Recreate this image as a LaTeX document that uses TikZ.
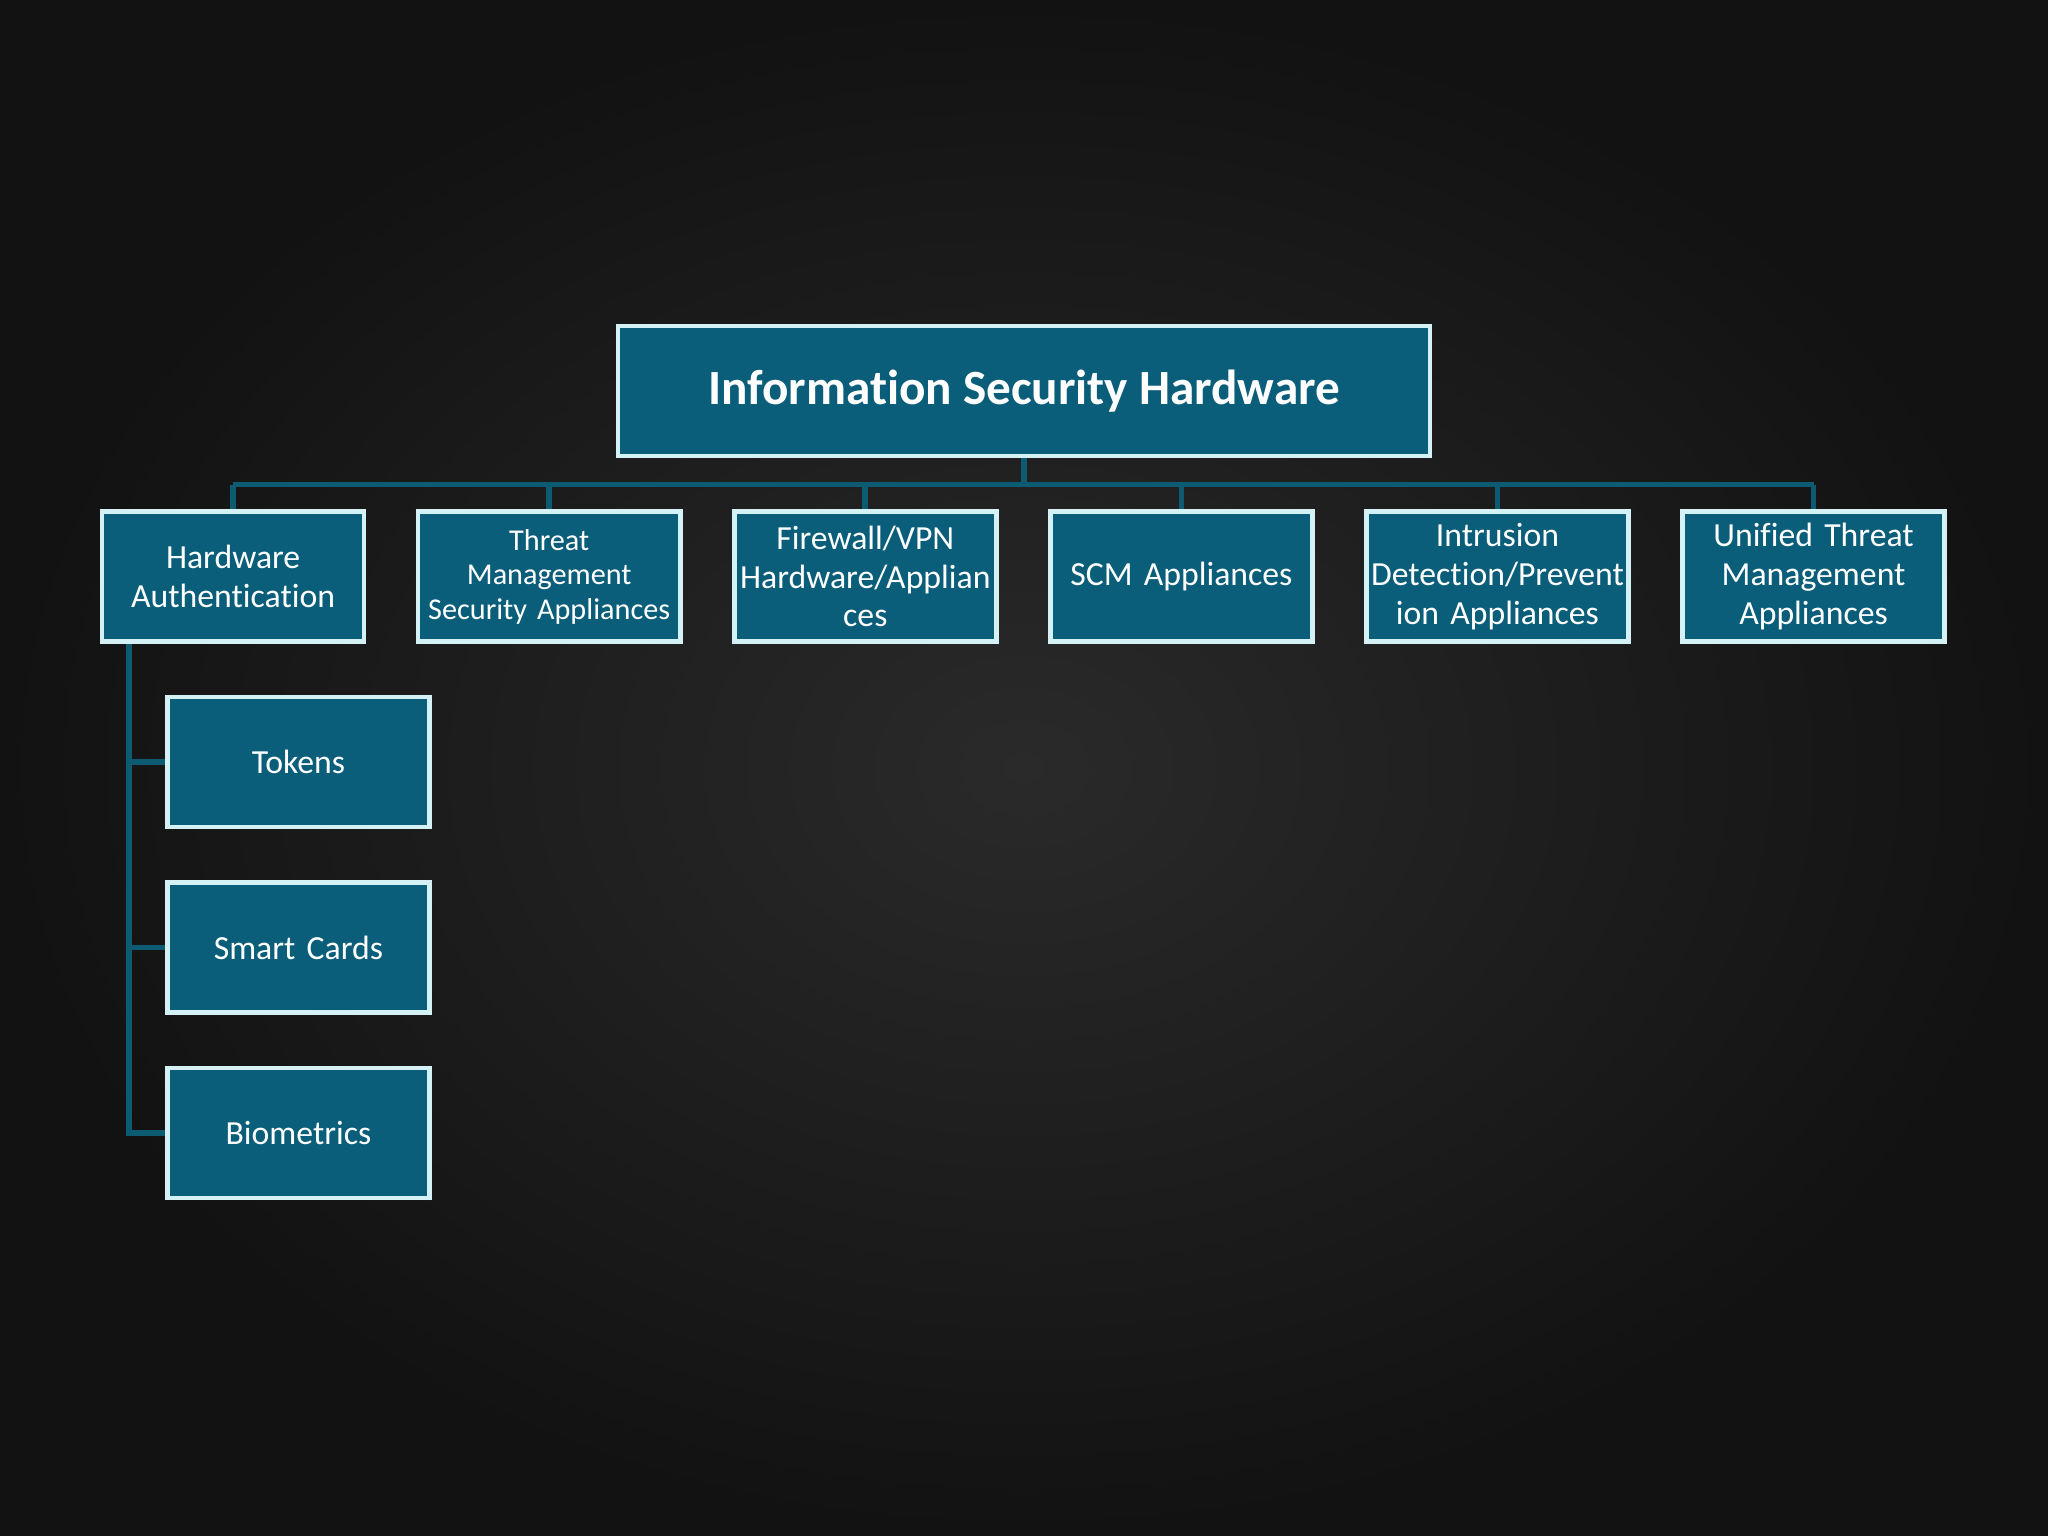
\documentclass[tikz,border=0pt]{standalone}
\usepackage{fontspec}
\setmainfont{Carlito}[Ligatures={NoCommon}]
\definecolor{boxfill}{HTML}{0A5E7A}
\definecolor{boxline}{HTML}{D4F2F6}
\definecolor{conn}{HTML}{0D5B73}
\definecolor{bgin}{HTML}{2A2A2A}
\definecolor{bgout}{HTML}{121212}
\begin{document}
\begin{tikzpicture}[x=0.01306cm,y=-0.01306cm,
  box/.style={draw=boxline,line width=1.3pt,fill=boxfill,text=white,align=center,inner sep=1pt},
  lvl/.style={box,minimum width=2.6cm,minimum height=1.3cm,text width=2.55cm,font=\fontsize{9.6}{11}\selectfont},
  link/.style={draw=conn,line width=1.6pt}]
\shade[inner color=bgin,outer color=bgout] (0,0) rectangle (1568,1176);
\useasboundingbox (0,0) rectangle (1568,1176);
\node[box,minimum width=8.12cm,minimum height=1.3cm,font=\bfseries\fontsize{14}{16}\selectfont] (top) at (784,299.5) {Information Security Hardware};
\node[lvl] (a) at (178.5,441.5) {Hardware\\Authentication};
\node[lvl,font=\fontsize{8.6}{9.8}\selectfont] (b) at (420.5,441.5) {Threat\\Management\\Security Appliances};
\node[lvl] (c) at (662.5,441.5) {Firewall/VPN\\Hardware/Applian\\ces};
\node[lvl] (d) at (904.5,441.5) {SCM Appliances};
\node[lvl] (e) at (1146.5,441.5) {Intrusion\\Detection/Prevent\\ion Appliances};
\node[lvl] (f) at (1388.5,441.5) {Unified Threat\\Management\\Appliances};
\node[lvl] (t) at (228.5,583.5) {Tokens};
\node[lvl] (s) at (228.5,725.5) {Smart Cards};
\node[lvl] (g) at (228.5,867.5) {Biometrics};
\coordinate (bar) at (0,371);
\draw[link] (top.south) -- (top.south |- bar);
\draw[link] (a.north |- bar) -- (f.north |- bar);
\foreach \n in {a,b,c,d,e,f} \draw[link] (\n.north |- bar) -- (\n.north);
\coordinate (lx) at (99,0);
\draw[link] (lx |- a.south) -- (lx |- g.west) -- (g.west);
\draw[link] (lx |- t.west) -- (t.west);
\draw[link] (lx |- s.west) -- (s.west);
\end{tikzpicture}
\end{document}
